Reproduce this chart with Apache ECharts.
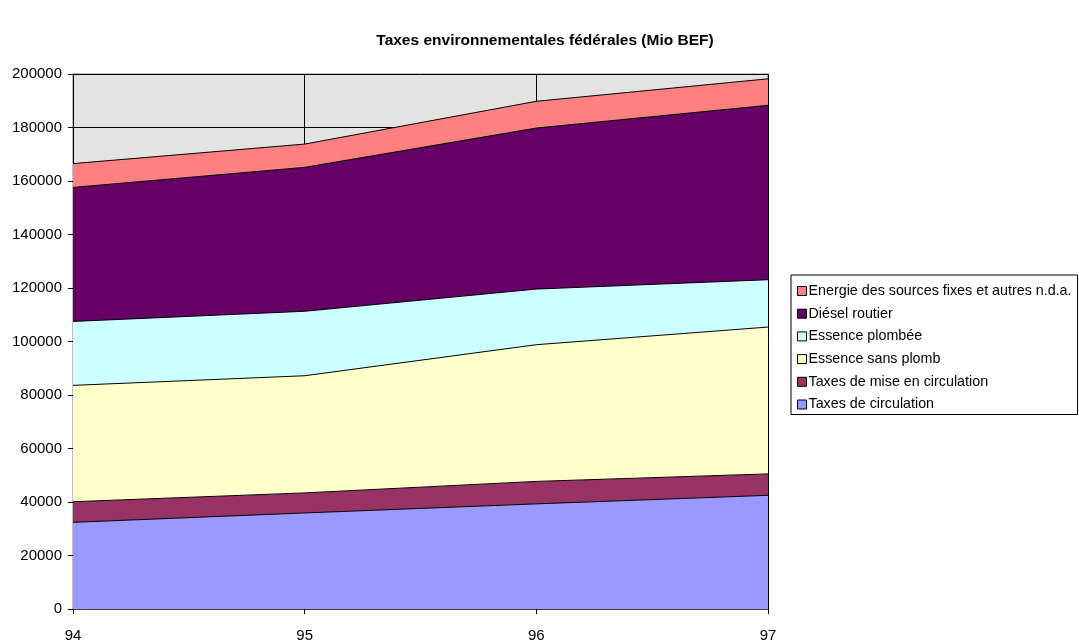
<!DOCTYPE html>
<html>
<head>
<meta charset="utf-8">
<script src="https://cdn.jsdelivr.net/npm/echarts@6/dist/echarts.min.js"></script>
<style>html,body{margin:0;padding:0;background:#fff}#c{width:1079px;height:640px}</style>
</head>
<body>
<div id="c"></div>
<script>
const categories = ['94', '95', '96', '97'];
const taxesCirculation = [32400, 35900, 39300, 42500];
const taxesMiseCirculation = [7700, 7500, 8400, 8000];
const essenceSansPlomb = [43500, 43800, 51100, 54900];
const essencePlombee = [23900, 24100, 20800, 17700];
const dieselRoutier = [50100, 53800, 60200, 65200];
const energieSources = [8900, 8700, 10000, 9900];

const seriesDefs = [
  {name: 'Taxes de circulation', data: taxesCirculation, color: '#9999FF'},
  {name: 'Taxes de mise en circulation', data: taxesMiseCirculation, color: '#993366'},
  {name: 'Essence sans plomb', data: essenceSansPlomb, color: '#FFFFCC'},
  {name: 'Essence plombée', data: essencePlombee, color: '#CCFFFF'},
  {name: 'Diésel routier', data: dieselRoutier, color: '#660066'},
  {name: 'Energie des sources fixes et autres n.d.a.', data: energieSources, color: '#FF8080'}
];

const font = "'Liberation Sans', Arial, sans-serif";
const chart = echarts.init(document.getElementById('c'), null, {renderer: 'canvas'});
chart.setOption({
  animation: false,
  title: {
    text: 'Taxes environnementales fédérales (Mio BEF)',
    left: 540, top: 28, textAlign: 'center',
    textStyle: {fontFamily: font, fontSize: 15.5, fontWeight: 'bold', color: '#000'}
  },
  legend: {
    orient: 'vertical',
    left: 791, top: 275,
    padding: [9, 6, 3, 6],
    itemGap: 8.7,
    itemWidth: 9, itemHeight: 9,
    icon: 'rect',
    borderColor: '#000', borderWidth: 1,
    backgroundColor: '#fff',
    itemStyle: {borderColor: '#000', borderWidth: 1},
    textStyle: {fontFamily: font, fontSize: 14.3, color: '#000', padding: [0, 0, 0, -3], width: 285},
    data: seriesDefs.slice().reverse().map(s => s.name)
  },
  grid: {
    left: 73, right: 311, top: 74, bottom: 31,
    containLabel: false, outerBoundsMode: 'none',
    show: true, backgroundColor: '#E3E3E3', borderColor: '#808080', borderWidth: 1
  },
  xAxis: {
    type: 'category', data: categories, boundaryGap: false,
    axisLine: {lineStyle: {color: '#404040', width: 1}},
    axisTick: {show: true, inside: false, length: 5, lineStyle: {color: '#000'}},
    axisLabel: {fontFamily: font, fontSize: 15, color: '#000', margin: 19},
    splitLine: {show: true, lineStyle: {color: '#000', width: 1}}
  },
  yAxis: {
    type: 'value', min: 0, max: 200000, interval: 20000,
    axisLine: {show: true, lineStyle: {color: '#000', width: 1}},
    axisTick: {show: true, length: 5, lineStyle: {color: '#000'}},
    axisLabel: {fontFamily: font, fontSize: 15, color: '#000', margin: 11,
      formatter: v => String(v)},
    splitLine: {show: true, lineStyle: {color: '#000', width: 1}}
  },
  series: seriesDefs.map(s => ({
    name: s.name, type: 'line', stack: 'total', data: s.data,
    symbol: 'none', showSymbol: false,
    lineStyle: {color: '#000', width: 1},
    itemStyle: {color: s.color},
    areaStyle: {color: s.color, opacity: 1}
  }))
});
</script>
</body>
</html>
